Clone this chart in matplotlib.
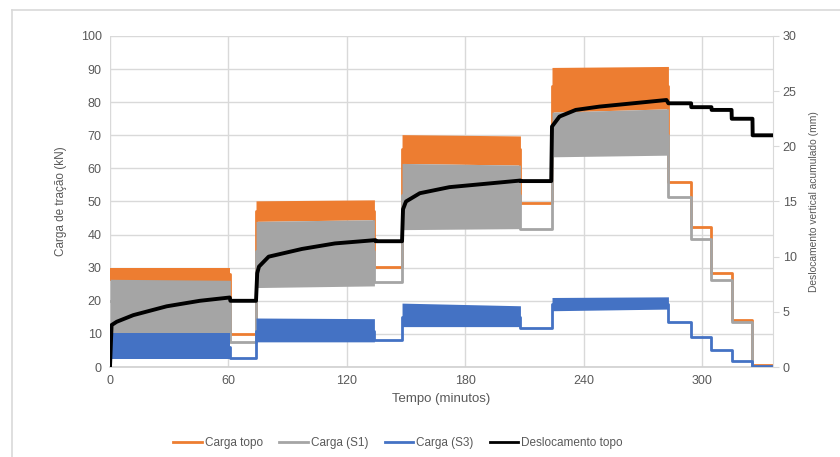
import matplotlib
matplotlib.use("Agg")
import matplotlib.pyplot as plt
from matplotlib.lines import Line2D

plt.rcParams['font.family'] = ['Liberation Sans', 'DejaVu Sans']

# ---------------- data ----------------
# cyclic load stages (minutes)
stage_start = [0, 74, 148, 224]
stage_end = [61, 134, 208, 283]

# envelope of cyclic loads per stage [start, end] (kN)
topo_hi = [[30.0, 30.0], [50.2, 50.5], [70.2, 69.8], [90.5, 90.8]]
topo_lo = [[26.0, 26.0], [44.0, 44.5], [61.5, 61.0], [77.0, 78.0]]
s1_hi = [[26.5, 26.2], [44.0, 44.5], [61.5, 61.0], [77.0, 78.0]]
s1_lo = [[8.0, 8.0], [24.0, 24.5], [41.5, 41.8], [63.5, 64.0]]
s3_hi = [[10.2, 10.2], [14.8, 14.6], [19.3, 18.5], [21.0, 21.2]]
s3_lo = [[2.3, 2.3], [7.6, 7.6], [12.2, 12.2], [17.0, 17.5]]

# step (held) values between / after stages, on time breaks
t_steps = [0, 61, 74, 134, 148, 208, 224, 283, 294.5, 304.8, 315, 325.6, 336]
topo_steps = [28, 10.0, 47, 30.3, 66, 49.5, 85, 56.0, 42.2, 28.5, 14.2, 0.5, 0.5]
s1_steps = [20, 7.6, 35, 25.8, 52, 41.6, 70, 51.4, 38.7, 26.3, 13.7, 0.0, 0.0]
s3_steps = [6, 2.8, 11, 8.2, 15, 11.9, 19, 13.5, 9.2, 5.1, 1.8, 0.3, 0.3]

# displacement at top (mm)
desl_t = [0, 0.8, 3.4, 11.8, 28.7, 45.5, 60.7, 61, 74, 74.6, 75.5, 80.4, 97.3, 114, 134.5, 134.6,
          148, 148.5, 150, 157, 172, 190, 208, 208.2, 223.6, 224, 227.8, 236, 248, 265, 282,
          283, 294.5, 294.6, 304.8, 304.9, 315, 315.1, 325.6, 325.7, 336]
desl_v = [0, 3.8, 4.1, 4.7, 5.5, 6.0, 6.3, 6.0, 6.0, 8.5, 9.1, 10.0, 10.7, 11.2, 11.5, 11.4,
          11.4, 14.3, 15.0, 15.75, 16.3, 16.6, 16.9, 16.85, 16.85, 21.8, 22.7, 23.3, 23.6, 23.9, 24.2,
          23.9, 23.9, 23.55, 23.55, 23.3, 23.3, 22.5, 22.5, 21.0, 21.0]

c_topo = '#ED7D31'
c_s1 = '#A5A5A5'
c_s3 = '#4472C4'
c_desl = '#000000'

fig = plt.figure(figsize=(8.4, 4.57), dpi=100)
ax = fig.add_axes([110 / 840, 1 - 367 / 457, 663 / 840, 331 / 457])
ax2 = ax.twinx()

def draw_series(steps, hi, lo, color, z):
    ax.plot(t_steps, steps, drawstyle='steps-post', color=color, lw=2.0, zorder=z)
    for i in range(len(stage_start)):
        xs = [stage_start[i], stage_end[i]]
        ax.fill_between(xs, lo[i], hi[i], color=color, lw=0, zorder=z)

draw_series(topo_steps, topo_hi, topo_lo, c_topo, 2)
draw_series(s1_steps, s1_hi, s1_lo, c_s1, 3)
draw_series(s3_steps, s3_hi, s3_lo, c_s3, 4)

ax2.plot(desl_t, desl_v, color=c_desl, lw=2.8, zorder=5, solid_joinstyle='round')

ax.set_xlim(0, 336)
ax.set_ylim(0, 100)
ax2.set_ylim(0, 30)
ax.set_xticks([0, 60, 120, 180, 240, 300])
ax.set_yticks(range(0, 101, 10))
ax2.set_yticks(range(0, 31, 5))

ax.grid(True, color='#D9D9D9', lw=1.0, zorder=0)
ax.set_axisbelow(True)
for sp in ['top', 'left']:
    ax.spines[sp].set_visible(False)
    ax2.spines[sp].set_visible(False)
ax.spines['right'].set_visible(False)
ax2.spines['right'].set_color('#D9D9D9')
ax2.spines['bottom'].set_visible(False)
ax.spines['bottom'].set_color('#D0D0D0')
ax.spines['bottom'].set_linewidth(1.2)

tick_col = '#595959'
ax.tick_params(axis='both', length=0, labelsize=9, labelcolor=tick_col, pad=6)
ax2.tick_params(axis='y', length=4, color='#D9D9D9', labelsize=9, labelcolor=tick_col, pad=3)

ax.set_ylabel('Carga de tração (kN)', fontsize=8.5, color=tick_col, labelpad=10)
ax2.set_ylabel('Deslocamento vertical acumulado (mm)', fontsize=7.4, color=tick_col, labelpad=9)
ax.set_xlabel('Tempo (minutos)', fontsize=9.5, color=tick_col, labelpad=4)

handles = [Line2D([], [], color=c_topo, lw=2), Line2D([], [], color=c_s1, lw=2),
           Line2D([], [], color=c_s3, lw=2), Line2D([], [], color=c_desl, lw=2)]
labels = ['Carga topo', 'Carga (S1)', 'Carga (S3)', 'Deslocamento topo']
fig.legend(handles, labels, loc='center', bbox_to_anchor=(398 / 840, 1 - 443 / 457), ncol=4,
           frameon=False, fontsize=8.5, labelcolor=tick_col, handlelength=2.4, handletextpad=0.25,
           columnspacing=1.4)

# chart area border
fig.add_artist(Line2D([12 / 840, 12 / 840], [0, 1 - 10 / 457], color='#D9D9D9', lw=1.2,
                      transform=fig.transFigure))
fig.add_artist(Line2D([12 / 840, 1], [1 - 10 / 457, 1 - 10 / 457], color='#D9D9D9', lw=1.2,
                      transform=fig.transFigure))

fig.savefig('out.png', dpi=100)
